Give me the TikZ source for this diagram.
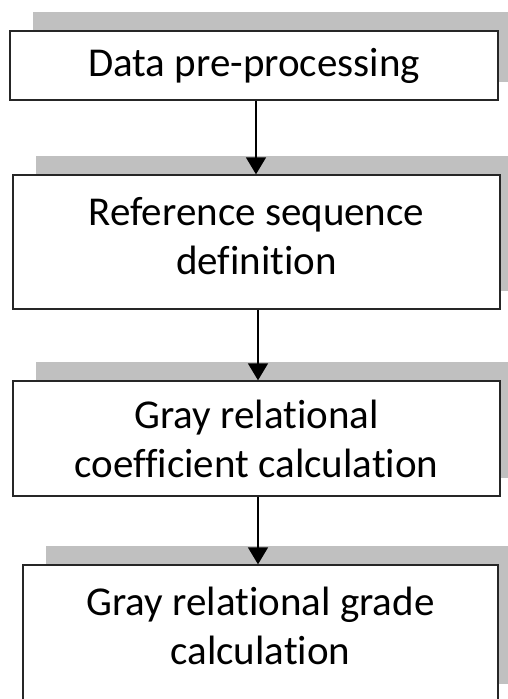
\documentclass[tikz,border=0pt]{standalone}
\usepackage{fontspec}
\setmainfont{Carlito}[Ligatures=NoCommon]
\usepackage{tikz}
\usetikzlibrary{arrows.meta}
\usetikzlibrary{backgrounds}
\definecolor{shadowgray}{HTML}{C0C0C0}

\begin{document}
\begin{tikzpicture}[x=1pt,y=-1pt,
  stepbox/.style={draw=black!85,line width=1.4pt,fill=white,rectangle,align=center,
    font=\fontsize{41}{49}\selectfont},
  flow/.style={draw=black,line width=1.6pt,-{Triangle[width=20pt,length=17pt]}}]
\useasboundingbox (0,0) rectangle (507,699);

\node[stepbox,minimum width=488,minimum height=69] (pre) at (254,65.5) {Data pre-processing};
\node[stepbox,minimum width=487,minimum height=134,text depth=12pt] (ref) at (256.5,242) {Reference sequence\\definition};
\node[stepbox,minimum width=487,minimum height=115] (coef) at (256.5,438.5) {Gray relational\\coefficient calculation};
\node[stepbox,minimum width=475,minimum height=137,text depth=16pt] (grade) at (260.5,633.5) {Gray relational grade\\calculation};

% shadows behind the steps
\begin{scope}[on background layer]
\foreach \n in {pre,ref,coef,grade}
  \fill[shadowgray] ([xshift=23.5pt,yshift=18.5pt]\n.south west) rectangle ([xshift=23.5pt,yshift=18.5pt]\n.north east);
\end{scope}

% arrows between steps
\draw[flow] (pre.south) ++(2,0) coordinate (a1) -- (a1 |- ref.north);
\draw[flow] (ref.south) ++(1.5,0) coordinate (a2) -- (a2 |- coef.north);
\draw[flow] (coef.south) ++(1.5,0) coordinate (a3) -- (a3 |- grade.north);

\end{tikzpicture}
\end{document}
